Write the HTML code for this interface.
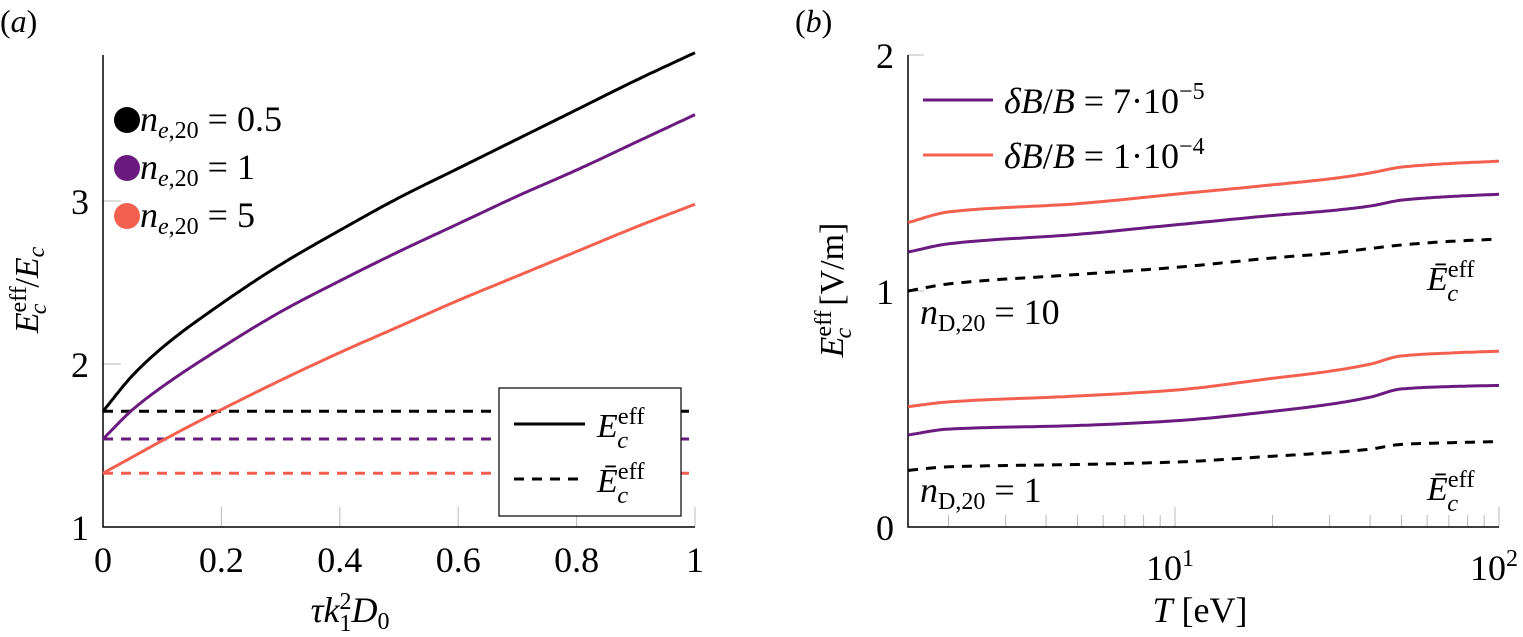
<!DOCTYPE html>
<html><head><meta charset="utf-8"><style>
html,body{margin:0;padding:0;background:#fff;}
svg{display:block;}
svg text{font-family:"Liberation Serif","DejaVu Serif",serif;}
.it{font-style:italic;}
</style></head><body>
<svg id="fig" width="1523" height="637" viewBox="0 0 1523 637" xmlns="http://www.w3.org/2000/svg" font-family="Liberation Serif, serif">
<g id="pa"></g>
<g id="pb"></g>
</svg>
<script>
// Panel (a) data
const aX = [0, 0.05, 0.1, 0.2, 0.3, 0.4, 0.5, 0.6, 0.7, 0.8, 0.9, 1];
const aBlack = [1.71, 1.93, 2.10, 2.37, 2.61, 2.82, 3.02, 3.20, 3.38, 3.56, 3.74, 3.91];
const aPurple = [1.54, 1.72, 1.86, 2.10, 2.32, 2.51, 2.69, 2.86, 3.03, 3.19, 3.36, 3.53];
const aOrange = [1.33, 1.43, 1.53, 1.72, 1.90, 2.07, 2.23, 2.39, 2.54, 2.69, 2.84, 2.98];
const aBarBlack = 1.71, aBarPurple = 1.54, aBarOrange = 1.33;
const aXTicks = [0, 0.2, 0.4, 0.6, 0.8, 1];
const aXTickLabels = ["0", "0.2", "0.4", "0.6", "0.8", "1"];
const aYTicks = [1, 2, 3];
// Panel (b) data
const bT = [1.5, 2, 5, 10, 20, 30, 40, 50, 70, 100];
const bUpOrange = [1.29, 1.335, 1.37, 1.41, 1.45, 1.475, 1.50, 1.525, 1.54, 1.55];
const bUpPurple = [1.165, 1.20, 1.24, 1.28, 1.32, 1.34, 1.36, 1.385, 1.40, 1.41];
const bUpDash = [1.0, 1.03, 1.07, 1.10, 1.14, 1.16, 1.18, 1.195, 1.21, 1.22];
const bLoOrange = [0.51, 0.53, 0.555, 0.58, 0.63, 0.66, 0.69, 0.725, 0.737, 0.745];
const bLoPurple = [0.39, 0.415, 0.43, 0.45, 0.49, 0.52, 0.55, 0.585, 0.595, 0.60];
const bLoDash = [0.24, 0.255, 0.265, 0.275, 0.30, 0.315, 0.33, 0.35, 0.357, 0.362];
const bYTicks = [0, 1, 2];

const NS = "http://www.w3.org/2000/svg";
const BLACK = "#000", PURPLE = "#6b1a80", ORANGE = "#f3604f";
const FF = '"Liberation Serif", serif';
function mk(parent, tag, attrs, text) {
  const e = document.createElementNS(NS, tag);
  if (tag === "text") e.setAttribute("font-family", FF);
  for (const k in attrs) e.setAttribute(k, attrs[k]);
  if (text !== undefined) e.textContent = text;
  parent.appendChild(e);
  return e;
}
function monoPath(xs, ys, sx, sy) {
  const n = xs.length, d = [], m = new Array(n);
  for (let i = 0; i < n - 1; i++) d.push((ys[i + 1] - ys[i]) / (xs[i + 1] - xs[i]));
  m[0] = d[0]; m[n - 1] = d[n - 2];
  for (let i = 1; i < n - 1; i++) {
    if (d[i - 1] * d[i] <= 0) m[i] = 0;
    else { const w1 = 2 * (xs[i + 1] - xs[i]) + (xs[i] - xs[i - 1]), w2 = (xs[i + 1] - xs[i]) + 2 * (xs[i] - xs[i - 1]); m[i] = (w1 + w2) / (w1 / d[i - 1] + w2 / d[i]); }
  }
  let p = "";
  for (let i = 0; i < n - 1; i++) {
    const h = xs[i + 1] - xs[i];
    for (let k = 0; k <= 20; k++) {
      if (i > 0 && k === 0) continue;
      const t = k / 20, t2 = t * t, t3 = t2 * t;
      const y = (2 * t3 - 3 * t2 + 1) * ys[i] + (t3 - 2 * t2 + t) * h * m[i] + (-2 * t3 + 3 * t2) * ys[i + 1] + (t3 - t2) * h * m[i + 1];
      const x = xs[i] + t * h;
      p += (p ? "L" : "M") + sx(x).toFixed(1) + "," + sy(y).toFixed(1);
    }
  }
  return p;
}
function mathE(parent, x, y, bar, size, name) {
  const t = mk(parent, "text", {x: x, y: y, "font-size": size});
  
  
  mk(t, "tspan", {class: "it"}, bar ? "\u0112" : "E");
  mk(t, "tspan", {dy: -size * 0.38, "font-size": size * 0.72}, "eff");
  mk(t, "tspan", {dx: -size * 0.8, dy: size * 0.7, "font-size": size * 0.72, class: "it"}, "c");
  return t;
}

// ---------- Panel A ----------
const pa = document.getElementById("pa");
const ax0 = 103, ax1 = 695, ay1 = 527, ayUnit = 163;
const sxA = v => ax0 + v * (ax1 - ax0);
const syA = v => ay1 - (v - 1) * ayUnit;
let lbA = mk(pa, "text", {x: 0, y: 32, "font-size": 32});


lbA.innerHTML = '(<tspan class="it">a</tspan>)';
aXTicks.forEach((v, i) => {
  const l = mk(pa, "line", {x1: sxA(v), x2: sxA(v), y1: ay1, y2: ay1 - 20, stroke: "#bbb", "stroke-width": 1});
  
  
  const t = mk(pa, "text", {x: sxA(v), y: 572, "font-size": 36, "text-anchor": "middle"}, aXTickLabels[i]);
  
  
});
aYTicks.forEach(v => {
  const l = mk(pa, "line", {x1: ax0, x2: ax0 + 18, y1: syA(v), y2: syA(v), stroke: "#bbb", "stroke-width": 1});
  
  
  const t = mk(pa, "text", {x: 89, y: syA(v) + 13, "font-size": 36, "text-anchor": "end"}, String(v));
  
  
});
let axA = mk(pa, "path", {d: `M${ax0},55 V${ay1} H${ax1}`, fill: "none", stroke: "#000", "stroke-width": 1.5});


[[aBarBlack, BLACK], [aBarPurple, PURPLE], [aBarOrange, ORANGE]].forEach(([v, c]) => {
  const l = mk(pa, "line", {x1: ax0, x2: ax1, y1: syA(v), y2: syA(v), stroke: c, "stroke-width": 3, "stroke-dasharray": "10,8"});
  
  
});
[[aBlack, BLACK, "curve-ne-0.5"], [aPurple, PURPLE, "curve-ne-1"], [aOrange, ORANGE, "curve-ne-5"]].forEach(([arr, c, n]) => {
  const p = mk(pa, "path", {d: monoPath(aX, arr, sxA, syA), fill: "none", stroke: c, "stroke-width": 3});
  
  
});
const lb = mk(pa, "g", {});


mk(lb, "rect", {x: 499, y: 388, width: 182, height: 128, fill: "#fff", stroke: "#000", "stroke-width": 1.2});
mk(lb, "line", {x1: 514, x2: 585, y1: 424, y2: 424, stroke: "#000", "stroke-width": 3});
mk(lb, "line", {x1: 514, x2: 585, y1: 479, y2: 479, stroke: "#000", "stroke-width": 3, "stroke-dasharray": "10,8"});
mathE(lb, 597, 437, false, 34, "legend-solid-label");
mathE(lb, 597, 492, true, 34, "legend-dashed-label");
[["0.5", BLACK, 120], ["1", PURPLE, 168], ["5", ORANGE, 216]].forEach(([v, c, y]) => {
  const g = mk(pa, "g", {});
  
  
  mk(g, "circle", {cx: 127, cy: y, r: 13, fill: c});
  const t = mk(g, "text", {x: 140, y: y + 11, "font-size": 36});
  t.innerHTML = `<tspan class="it">n</tspan><tspan font-size="24" dy="7"><tspan class="it">e</tspan>,20</tspan><tspan dy="-7"> = ${v}</tspan>`;
});
let yl = mk(pa, "text", {x: 0, y: 0, "font-size": 34, transform: "translate(38,290) rotate(-90)", "text-anchor": "middle"});


yl.innerHTML = '<tspan class="it">E</tspan><tspan font-size="24" dy="-12">eff</tspan><tspan class="it" font-size="24" dx="-28" dy="20">c</tspan><tspan dx="16" dy="-8">/</tspan><tspan class="it">E</tspan><tspan class="it" font-size="24" dy="6">c</tspan>';
let xl = mk(pa, "text", {x: 350, y: 622, "font-size": 36, "text-anchor": "middle"});


xl.innerHTML = '<tspan class="it">τk</tspan><tspan font-size="24" dy="-13">2</tspan><tspan font-size="24" dx="-12" dy="22">1</tspan><tspan class="it" dy="-9">D</tspan><tspan font-size="24" dy="7">0</tspan>';

// ---------- Panel B ----------
const pb = document.getElementById("pb");
const bx0 = 908, bx1 = 1499, by0 = 527, byUnit = 236, dec = 324;
const sxB = T => 1175 + (Math.log10(T) - 1) * dec;
const syB = v => by0 - v * byUnit;
let lbB = mk(pb, "text", {x: 795, y: 32, "font-size": 32});


lbB.innerHTML = '(<tspan class="it">b</tspan>)';
for (let d = 0; d <= 1; d++) for (let m = 1; m <= 10; m++) {
  const T = m * Math.pow(10, d);
  if (T < 1.5 || T > 100) continue;
  const major = (m === 1 || m === 10);
  const l = mk(pb, "line", {x1: sxB(T), x2: sxB(T), y1: by0, y2: by0 - (major ? 20 : 12), stroke: "#bbb", "stroke-width": 1});
  
  
}
[[10, "1"], [100, "2"]].forEach(([T, e]) => {
  const t = mk(pb, "text", {x: sxB(T) - 5, y: 580, "font-size": 36, "text-anchor": "middle"});
  
  
  t.innerHTML = `10<tspan font-size="24" dy="-14">${e}</tspan>`;
});
bYTicks.forEach(v => {
  const l = mk(pb, "line", {x1: bx0, x2: bx0 + 16, y1: syB(v), y2: syB(v), stroke: "#bbb", "stroke-width": 1});
  
  
  const t = mk(pb, "text", {x: 894, y: syB(v) + 13, "font-size": 36, "text-anchor": "end"}, String(v));
  
  
});
let axB = mk(pb, "path", {d: `M${bx0},55 V${by0} H${bx1}`, fill: "none", stroke: "#000", "stroke-width": 1.5});


const lT = bT.map(t => Math.log10(t));
const sxL = lt => sxB(Math.pow(10, lt));
[[bUpOrange, ORANGE, false, "nd10-dB1e-4"], [bUpPurple, PURPLE, false, "nd10-dB7e-5"], [bUpDash, BLACK, true, "nd10-bar"],
 [bLoOrange, ORANGE, false, "nd1-dB1e-4"], [bLoPurple, PURPLE, false, "nd1-dB7e-5"], [bLoDash, BLACK, true, "nd1-bar"]].forEach(([arr, c, dash, n]) => {
  const a = {d: monoPath(lT, arr, sxL, syB), fill: "none", stroke: c, "stroke-width": 3};
  if (dash) a["stroke-dasharray"] = "10,8";
  const p = mk(pb, "path", a);
  
  
});
[[PURPLE, 100, "7", "−5"], [ORANGE, 155, "1", "−4"]].forEach(([c, y, m, e]) => {
  const g = mk(pb, "g", {});
  
  
  mk(g, "line", {x1: 923, x2: 993, y1: y, y2: y, stroke: c, "stroke-width": 3});
  const t = mk(g, "text", {x: 1004, y: y + 13, "font-size": 36});
  t.innerHTML = `<tspan class="it">δB</tspan>/<tspan class="it">B</tspan> = ${m}·10<tspan font-size="24" dy="-14">${e}</tspan>`;
});
[["10", 324], ["1", 502]].forEach(([v, y]) => {
  const t = mk(pb, "text", {x: 920, y: y, "font-size": 36});
  
  
  t.innerHTML = `<tspan class="it">n</tspan><tspan font-size="24" dy="7">D,20</tspan><tspan dy="-7"> = ${v}</tspan>`;
});
mathE(pb, 1427, 290, true, 34, "annotation-ebar-upper");
mathE(pb, 1427, 500, true, 34, "annotation-ebar-lower");
let ylb = mk(pb, "text", {x: 0, y: 0, "font-size": 34, transform: "translate(843,290) rotate(-90)", "text-anchor": "middle"});


ylb.innerHTML = '<tspan class="it">E</tspan><tspan font-size="24" dy="-12">eff</tspan><tspan class="it" font-size="24" dx="-28" dy="20">c</tspan><tspan dx="22" dy="-8">[V/m]</tspan>';
let xlb = mk(pb, "text", {x: 1200, y: 622, "font-size": 36, "text-anchor": "middle"});


xlb.innerHTML = '<tspan class="it">T</tspan> [eV]';
</script>
</body></html>
